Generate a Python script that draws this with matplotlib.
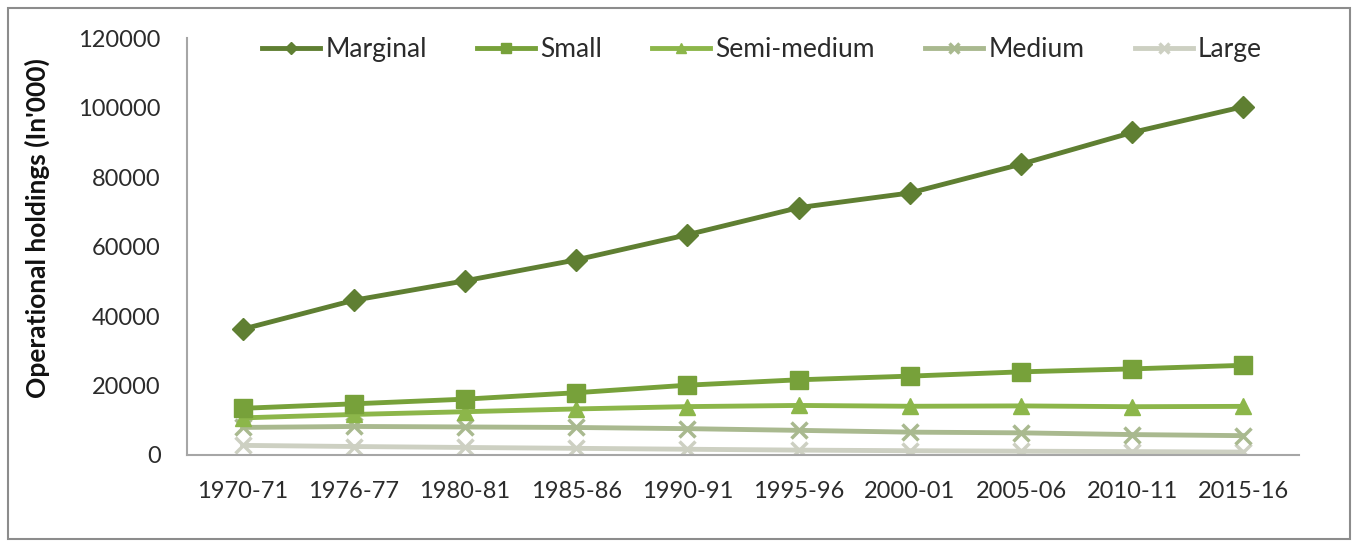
import matplotlib
matplotlib.use("Agg")
import matplotlib.pyplot as plt
from matplotlib.patches import Rectangle

years = ["1970-71", "1976-77", "1980-81", "1985-86", "1990-91",
         "1995-96", "2000-01", "2005-06", "2010-11", "2015-16"]
marginal = [36200, 44523, 50122, 56147, 63389, 71179, 75408, 83694, 92826, 100251]
small = [13432, 14728, 16072, 17922, 20092, 21643, 22695, 23930, 24779, 25809]
semi_medium = [10681, 11666, 12455, 13252, 13923, 14261, 14021, 14127, 13896, 13993]
medium = [7932, 8212, 8068, 7916, 7580, 7092, 6577, 6375, 5875, 5561]
large = [2766, 2440, 2166, 1918, 1654, 1404, 1230, 1096, 973, 838]

plt.rcParams['font.family'] = ['Lato', 'DejaVu Sans']

fig = plt.figure(figsize=(13.55, 5.47), dpi=100)
ax = fig.add_axes([0.138, 0.1682, 0.8207, 0.7623])

x = list(range(len(years)))
series = [
    ("Marginal", marginal, "#5f7f32", "D", 11),
    ("Small", small, "#77a13a", "s", 13),
    ("Semi-medium", semi_medium, "#8cb64a", "^", 12),
    ("Medium", medium, "#a9b98f", "x", 11),
    ("Large", large, "#cdd0c2", "x", 11),
]
for name, vals, col, mk, ms in series[::-1]:
    kw = dict(markeredgewidth=2.5) if mk == "x" else dict(markeredgecolor=col)
    ax.plot(x, vals, color=col, lw=3.5, marker=mk, markersize=ms,
            markerfacecolor=col, label=name, **kw)

ax.set_xlim(-0.5, len(years) - 0.5)
ax.set_ylim(0, 120000)
ax.set_yticks(range(0, 120001, 20000))
ax.set_xticks(x)
ax.set_xticklabels(years)
ax.tick_params(axis='both', length=0, labelsize=17, colors="#2b2b2b")
ax.tick_params(axis='x', pad=19)
ax.tick_params(axis='y', pad=19)
for side in ("top", "right"):
    ax.spines[side].set_visible(False)
for side in ("left", "bottom"):
    ax.spines[side].set_color("#a6a6a6")
    ax.spines[side].set_linewidth(1.5)

ax.set_ylabel("Operational holdings (In'000)", fontsize=19, fontweight="bold",
              color="#111111")
ax.yaxis.set_label_coords(-0.123, 0.544)

handles, labels = ax.get_legend_handles_labels()
leg = ax.legend(handles[::-1], labels[::-1], loc="center",
                bbox_to_anchor=(0.517, 0.972), ncol=5, frameon=False,
                fontsize=19, handlelength=2.2, columnspacing=1.9,
                handletextpad=0.2, markerscale=0.6)
for t in leg.get_texts():
    t.set_color("#2b2b2b")

fig.patches.append(Rectangle((0.006, 0.015), 0.99, 0.97, transform=fig.transFigure,
                             fill=False, edgecolor="#8c8c8c", lw=1.5))

fig.savefig("out.png", dpi=100, facecolor="white")
